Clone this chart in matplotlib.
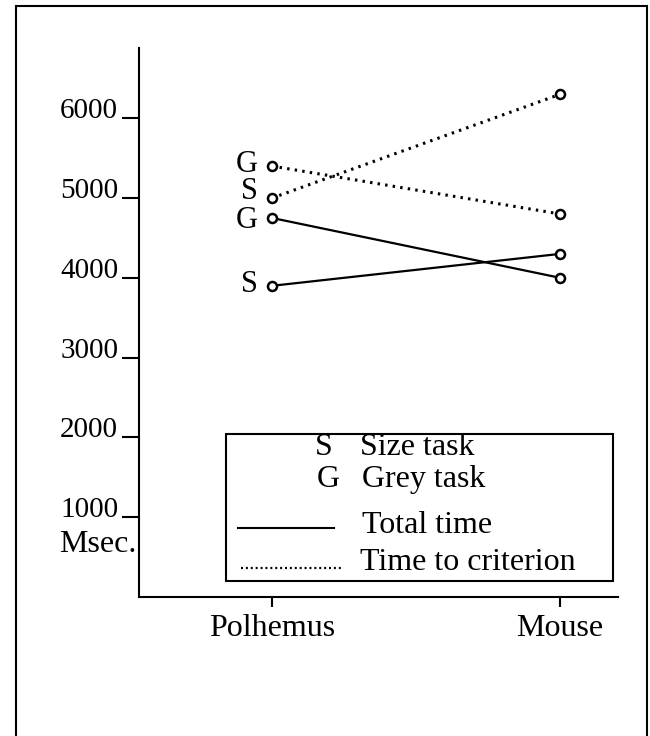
import matplotlib.pyplot as plt
from matplotlib.patches import Rectangle
from matplotlib.lines import Line2D

devices = ['Polhemus', 'Mouse']
size_total = [3900, 4300]
grey_total = [4750, 4000]
size_criterion = [5000, 6300]
grey_criterion = [5400, 4800]
y_ticks = [1000, 2000, 3000, 4000, 5000, 6000]

legend_letters = ['S', 'G']
legend_tasks = ['Size task', 'Grey task']
legend_lines = ['Total time', 'Time to criterion']

plt.rcParams['font.family'] = ['Liberation Serif', 'DejaVu Serif']

W, H = 650, 736
fig = plt.figure(figsize=(W / 100, H / 100), dpi=100)


def px(x, y):
    # pixel position (from top-left) -> figure fraction
    return x / W, (H - y) / H


ax = fig.add_axes([139 / W, (H - 597) / H, (618 - 139) / W, (597 - 48) / H])
ax.set_xlim(-0.462, 1.201)
ax.set_ylim(0, 6880)

xs = [0, 1]
dot = (0, (0.8, 1.7))
# (values, linestyle, letter, label y-offset in points)
series = [
    (size_total, '-', 'S', 1),
    (grey_total, '-', 'G', -2),
    (size_criterion, dot, 'S', 5),
    (grey_criterion, dot, 'G', 1),
]
for vals, ls, lab, dy in series:
    lw = 1.6 if ls == '-' else 2.2
    ax.plot(xs, vals, color='black', linestyle=ls, linewidth=lw, zorder=2)
    ax.plot(xs, vals, linestyle='none', marker='o', markersize=6.5,
            markerfacecolor='white', markeredgecolor='black',
            markeredgewidth=1.8, zorder=3)
    ax.annotate(lab, (xs[0], vals[0]), xytext=(-10, dy),
                textcoords='offset points', ha='right', va='center',
                fontsize=22)

for s in ['top', 'right']:
    ax.spines[s].set_visible(False)
for s in ['left', 'bottom']:
    ax.spines[s].set_linewidth(1.5)

ax.set_yticks(y_ticks)
ax.set_yticklabels([str(v) for v in y_ticks], fontsize=21)
for lbl in ax.get_yticklabels():
    lbl.set_va('baseline')
ax.tick_params(axis='y', direction='out', length=12, width=1.5, pad=3)

ax.set_xticks(xs)
ax.set_xticklabels(devices, fontsize=23)
ax.tick_params(axis='x', direction='out', length=7, width=1.5, pad=5)

fig.text(*px(59, 552), 'Msec.', fontsize=23, ha='left', va='baseline')

# legend box
x0, y0 = px(226, 581)
x1, y1 = px(613, 434)
fig.add_artist(Rectangle((x0, y0), x1 - x0, y1 - y0, transform=fig.transFigure,
                         fill=False, edgecolor='black', linewidth=1.5))
fig.text(*px(324, 455), legend_letters[0], fontsize=23, ha='center', va='baseline')
fig.text(*px(360, 455), legend_tasks[0], fontsize=23, ha='left', va='baseline')
fig.text(*px(328, 487), legend_letters[1], fontsize=23, ha='center', va='baseline')
fig.text(*px(362, 487), legend_tasks[1], fontsize=23, ha='left', va='baseline')

a, b = px(238, 528), px(334, 528)
fig.add_artist(Line2D([a[0], b[0]], [a[1], b[1]], transform=fig.transFigure,
                      color='black', linewidth=1.5))
fig.text(*px(362, 533), legend_lines[0], fontsize=23, ha='left', va='baseline')
a, b = px(241, 568), px(341, 568)
fig.add_artist(Line2D([a[0], b[0]], [a[1], b[1]], transform=fig.transFigure,
                      color='black', linewidth=1.6, linestyle=(0, (0.9, 1.3))))
fig.text(*px(360, 570), legend_lines[1], fontsize=23, ha='left', va='baseline')

# frame around the whole figure
fx0, fy0 = px(16, 740)
fx1, fy1 = px(647, 6)
fig.add_artist(Rectangle((fx0, fy0), fx1 - fx0, fy1 - fy0, transform=fig.transFigure,
                         fill=False, edgecolor='black', linewidth=1.5, clip_on=False))

fig.savefig('out.png', dpi=100)
